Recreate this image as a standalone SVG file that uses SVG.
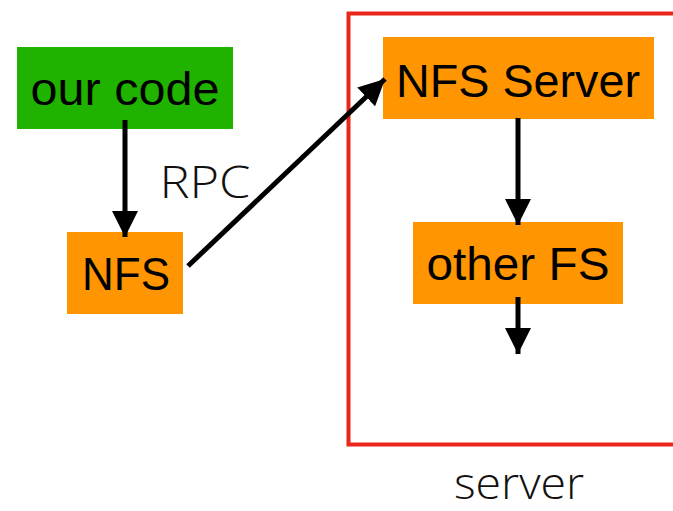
<svg xmlns="http://www.w3.org/2000/svg" width="673" height="511" viewBox="0 0 673 511">
<style>
.box{fill:#ff9500}
.lbl{font-family:"Liberation Sans",Arial,sans-serif;font-size:46px;fill:#000}
.thin{font-family:"Open Sans","Liberation Sans",sans-serif;font-weight:300;font-size:44px;fill:#111}
.conn{stroke:#000;stroke-width:5;fill:none}
</style>
<defs>
<marker id="ah" markerUnits="userSpaceOnUse" markerWidth="26" markerHeight="26" viewBox="0 0 26 26" refX="26" refY="13" orient="auto">
<path d="M0,0 L26,13 L0,26 Z" fill="#000"/>
</marker>
</defs>
<rect x="348.5" y="13.5" width="330" height="431" fill="none" stroke="#e8261a" stroke-width="4"/>
<g id="our-code">
<rect x="17" y="47" width="216" height="82" fill="#1fb300"/>
<text class="lbl" x="125" y="105" text-anchor="middle" textLength="189" lengthAdjust="spacingAndGlyphs">our code</text>
</g>
<g id="nfs">
<rect class="box" x="67" y="232" width="116" height="82"/>
<text class="lbl" x="126" y="290" text-anchor="middle" textLength="88" lengthAdjust="spacingAndGlyphs">NFS</text>
</g>
<g id="nfs-server">
<rect class="box" x="383" y="37" width="271" height="82"/>
<text class="lbl" x="518" y="97" text-anchor="middle" textLength="244" lengthAdjust="spacingAndGlyphs">NFS Server</text>
</g>
<g id="other-fs">
<rect class="box" x="413" y="222" width="210" height="82"/>
<text class="lbl" x="518" y="280" text-anchor="middle" textLength="183" lengthAdjust="spacingAndGlyphs">other FS</text>
</g>
<text class="thin" x="205" y="198" text-anchor="middle" textLength="91" lengthAdjust="spacingAndGlyphs">RPC</text>
<text class="thin" x="519" y="499" text-anchor="middle" font-size="43" textLength="130" lengthAdjust="spacingAndGlyphs">server</text>
<g id="connectors">
<line class="conn" x1="125" y1="120" x2="125" y2="237" marker-end="url(#ah)"/>
<line class="conn" x1="188" y1="266" x2="385" y2="79" marker-end="url(#ah)"/>
<line class="conn" x1="518" y1="118" x2="518" y2="225" marker-end="url(#ah)"/>
<line class="conn" x1="518" y1="297" x2="518" y2="354" marker-end="url(#ah)"/>
</g>
</svg>
